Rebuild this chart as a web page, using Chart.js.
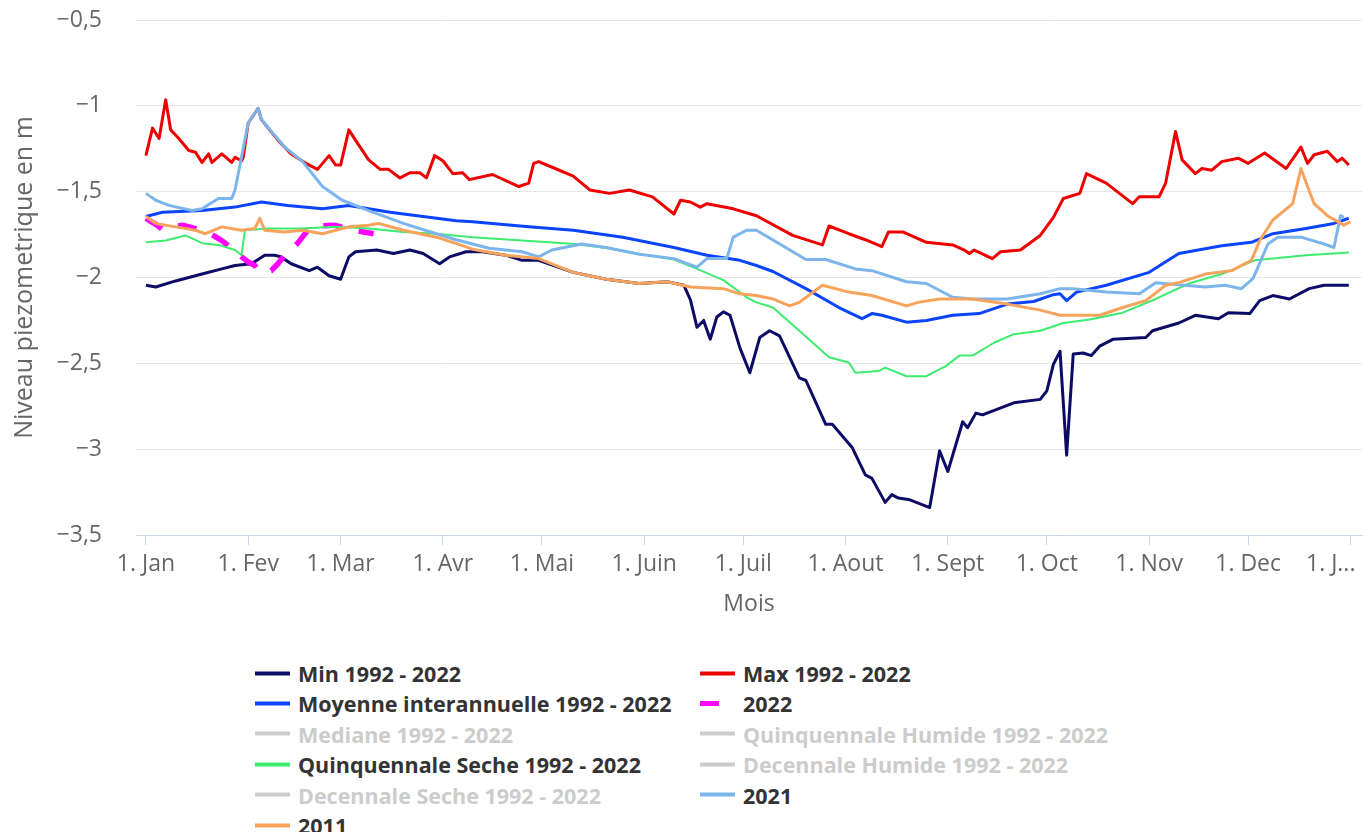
<!DOCTYPE html>
<html>
<head>
<meta charset="utf-8">
<script src="https://cdn.jsdelivr.net/npm/chart.js@4"></script>
<style>
  body { margin: 0; background: #fff; }
  #wrap { position: relative; width: 1363px; height: 832px; overflow: hidden; }
  #box { position: absolute; left: 0; top: 0; width: 1363px; height: 640px; }
  .item { position: absolute; display: flex; align-items: center; transform: translateY(-50%);
          font: bold 21.5px "Open Sans", sans-serif; color: #333; white-space: nowrap; }
  .item.off { color: #ccc; }
  .item svg { margin-right: 8px; }
</style>
</head>
<body>
<div id="wrap">
  <div id="box"><canvas id="chart"></canvas></div>
  <div id="legend"></div>
</div>
<script>
// jours depuis le 1er janvier
const monthDays = [0, 31, 59, 90, 120, 151, 181, 212, 243, 273, 304, 334, 365];
const monthLabels = ['1. Jan', '1. Fev', '1. Mar', '1. Avr', '1. Mai', '1. Juin', '1. Juil', '1. Aout', '1. Sept', '1. Oct', '1. Nov', '1. Dec', '1. J...'];
const yTicks = [-3.5, -3, -2.5, -2, -1.5, -1, -0.5];
const yLabels = ['−3,5', '−3', '−2,5', '−2', '−1,5', '−1', '−0,5'];

const minDays = [0, 3, 9, 17, 23, 27, 32, 36, 39, 41, 44, 49.5, 52, 55.5, 59, 61.5, 63.5, 70, 75, 80, 84, 89, 92, 97, 102, 109, 114, 119, 129.5, 139.5, 149.5, 158, 163, 165, 167, 169, 171, 173, 175, 177, 180, 183, 186, 189, 192, 198, 200, 206, 208, 214, 218, 220, 224, 226, 228, 231.5, 237.5, 240.5, 243, 247.5, 249, 251.5, 253.5, 263, 271, 273, 275, 277, 279, 281, 284, 286.5, 289, 293, 303, 305, 313, 318, 325, 328, 334.5, 337.5, 341.5, 346.5, 352.5, 357, 364.5];
const minVals = [-2.045, -2.055, -2.02, -1.98, -1.95, -1.93, -1.92, -1.87, -1.87, -1.88, -1.92, -1.96, -1.94, -1.99, -2.01, -1.88, -1.85, -1.84, -1.86, -1.84, -1.86, -1.92, -1.88, -1.85, -1.85, -1.87, -1.9, -1.9, -1.97, -2.01, -2.035, -2.025, -2.045, -2.13, -2.29, -2.25, -2.36, -2.23, -2.2, -2.22, -2.41, -2.555, -2.35, -2.31, -2.34, -2.585, -2.6, -2.855, -2.855, -2.99, -3.15, -3.17, -3.31, -3.265, -3.285, -3.295, -3.34, -3.01, -3.13, -2.84, -2.875, -2.79, -2.8, -2.73, -2.71, -2.66, -2.505, -2.43, -3.035, -2.445, -2.44, -2.455, -2.4, -2.36, -2.35, -2.31, -2.265, -2.22, -2.24, -2.205, -2.21, -2.135, -2.105, -2.125, -2.065, -2.045, -2.045];

const maxDays = [0, 2, 4, 6, 7.5, 9.5, 13, 15, 17, 19, 20, 23, 26, 27, 29, 29.5, 31, 34, 35, 40, 41, 44, 48.5, 52, 55.5, 57.5, 59, 61.5, 63.5, 67.5, 71, 73.5, 77, 80, 83, 85, 87.5, 90, 93, 96, 98, 105, 113, 116, 117.5, 119, 124, 129.5, 134.5, 140.5, 146.5, 153.5, 160, 162, 165, 168, 170, 178, 185, 196, 205, 207, 213, 218, 223, 225, 229.5, 236.5, 244.5, 248, 249.5, 251, 256.5, 259, 265, 271, 275, 278, 283, 285, 291, 299, 301, 307, 309, 312, 314, 318, 320, 323, 326, 331, 334, 339, 345.5, 350, 352, 354, 358, 361, 362.5, 364.5];
const maxVals = [-1.29, -1.13, -1.19, -0.965, -1.14, -1.18, -1.26, -1.27, -1.33, -1.28, -1.33, -1.28, -1.33, -1.3, -1.32, -1.3, -1.1, -1.015, -1.08, -1.2, -1.22, -1.28, -1.335, -1.37, -1.29, -1.345, -1.345, -1.14, -1.2, -1.315, -1.37, -1.37, -1.42, -1.39, -1.39, -1.42, -1.29, -1.32, -1.395, -1.39, -1.43, -1.4, -1.47, -1.45, -1.335, -1.325, -1.365, -1.41, -1.49, -1.51, -1.49, -1.53, -1.63, -1.55, -1.56, -1.59, -1.57, -1.6, -1.64, -1.755, -1.81, -1.7, -1.745, -1.78, -1.82, -1.735, -1.735, -1.795, -1.81, -1.84, -1.86, -1.84, -1.89, -1.85, -1.84, -1.755, -1.65, -1.54, -1.51, -1.395, -1.45, -1.57, -1.53, -1.53, -1.45, -1.15, -1.315, -1.395, -1.365, -1.375, -1.325, -1.305, -1.335, -1.275, -1.365, -1.24, -1.335, -1.285, -1.265, -1.325, -1.305, -1.345];

const moyDays = [0, 5, 17, 27, 35, 43, 53.5, 61.5, 74, 84, 94, 99, 116, 129.5, 144.5, 160, 170, 180, 185, 190, 200, 210, 217, 220, 223, 230.5, 236.5, 244.5, 252.5, 261, 269, 275, 277, 279, 282, 291, 304, 313, 326, 335, 341.5, 351.5, 360, 364.5];
const moyVals = [-1.645, -1.62, -1.61, -1.59, -1.56, -1.58, -1.6, -1.58, -1.62, -1.645, -1.67, -1.675, -1.705, -1.725, -1.765, -1.825, -1.87, -1.9, -1.93, -1.965, -2.065, -2.175, -2.24, -2.21, -2.22, -2.26, -2.25, -2.22, -2.21, -2.155, -2.14, -2.1, -2.095, -2.135, -2.085, -2.045, -1.97, -1.86, -1.815, -1.795, -1.745, -1.715, -1.685, -1.655];

const y2022Days = [0, 3, 5, 8, 11, 14, 17, 20, 23, 26, 28, 31, 33, 34, 36, 38, 40, 42, 46, 48, 50, 53, 57, 60, 63, 66, 69];
const y2022Vals = [-1.655, -1.69, -1.72, -1.71, -1.695, -1.71, -1.725, -1.75, -1.785, -1.83, -1.865, -1.91, -1.93, -1.96, -1.97, -1.96, -1.92, -1.87, -1.8, -1.75, -1.705, -1.7, -1.695, -1.71, -1.725, -1.735, -1.745];

const qsDays = [0, 6, 12, 17, 22, 27, 29, 30, 37, 47, 57.5, 67.5, 78, 88, 99, 114, 130, 140, 150, 160, 167, 175, 182, 185, 190, 198, 207, 213, 215, 222, 224, 230.5, 236.5, 242.5, 246.5, 250.5, 257, 263, 271, 278, 286, 296, 306, 316, 326, 336, 341.5, 351.5, 364.5];
const qsVals = [-1.795, -1.785, -1.755, -1.8, -1.81, -1.84, -1.87, -1.725, -1.715, -1.715, -1.705, -1.715, -1.735, -1.745, -1.765, -1.785, -1.805, -1.83, -1.865, -1.895, -1.95, -2.015, -2.115, -2.145, -2.175, -2.31, -2.465, -2.495, -2.555, -2.545, -2.525, -2.575, -2.575, -2.515, -2.455, -2.455, -2.38, -2.33, -2.31, -2.265, -2.245, -2.205, -2.125, -2.035, -1.98, -1.9, -1.89, -1.87, -1.855];

const y2021Days = [0, 3, 7, 14, 17, 22, 26, 27, 31, 34, 35, 42, 47.5, 53.5, 59.5, 67.5, 78, 88, 94, 104, 114, 119, 123, 132, 139.5, 149.5, 160, 167, 170, 176, 178, 182, 185, 200, 206, 215, 220, 230.5, 236.5, 244.5, 250.5, 261, 271, 277, 281, 291, 301, 306, 311, 321, 327, 332, 335.5, 340, 343, 350, 357, 360, 362, 363];
const y2021Vals = [-1.51, -1.55, -1.58, -1.61, -1.6, -1.54, -1.54, -1.49, -1.1, -1.015, -1.08, -1.24, -1.325, -1.47, -1.55, -1.61, -1.685, -1.745, -1.78, -1.83, -1.85, -1.88, -1.84, -1.805, -1.825, -1.865, -1.89, -1.94, -1.89, -1.89, -1.765, -1.725, -1.725, -1.895, -1.895, -1.95, -1.96, -2.025, -2.035, -2.115, -2.125, -2.125, -2.095, -2.065, -2.065, -2.085, -2.095, -2.03, -2.04, -2.055, -2.045, -2.065, -2.005, -1.805, -1.765, -1.765, -1.805, -1.825, -1.64, -1.65];

const y2011Days = [0, 3, 9, 15, 18, 23, 29, 33, 34.5, 36, 42, 47.5, 53.5, 61.5, 67.5, 70.5, 78, 88, 93, 99, 109, 119, 129.5, 139.5, 149.5, 158, 165, 175, 180, 185, 190, 195, 198, 205, 213, 220, 230.5, 234, 240.5, 250.5, 261, 271, 277, 281, 289, 296, 303, 309, 313, 321, 329, 335, 337.5, 341.5, 347.5, 350, 352, 354, 358, 363, 365];
const y2011Vals = [-1.645, -1.685, -1.705, -1.725, -1.745, -1.705, -1.725, -1.715, -1.655, -1.725, -1.735, -1.725, -1.745, -1.705, -1.695, -1.685, -1.725, -1.765, -1.795, -1.835, -1.87, -1.89, -1.97, -2.01, -2.035, -2.025, -2.055, -2.065, -2.095, -2.105, -2.125, -2.165, -2.145, -2.045, -2.085, -2.105, -2.165, -2.145, -2.125, -2.125, -2.155, -2.19, -2.22, -2.22, -2.22, -2.175, -2.135, -2.045, -2.03, -1.98, -1.96, -1.9, -1.785, -1.665, -1.57, -1.365, -1.47, -1.57, -1.64, -1.695, -1.675];

function pts(days, vals) {
  return days.map((d, i) => ({ x: d, y: vals[i] }));
}

function serie(label, color, days, vals, extra) {
  return Object.assign({
    label: label,
    data: days ? pts(days, vals) : [],
    borderColor: color,
    backgroundColor: color,
    borderWidth: 3,
    pointRadius: 0,
    tension: 0,
    borderJoinStyle: 'round',
    hidden: !days
  }, extra || {});
}

const datasets = [
  serie('Min 1992 - 2022', '#0c0c66', minDays, minVals),
  serie('Max 1992 - 2022', '#ee0000', maxDays, maxVals),
  serie('Moyenne interannuelle 1992 - 2022', '#0a44ff', moyDays, moyVals),
  serie('2022', '#ff00ff', y2022Days, y2022Vals, { borderWidth: 5.5, borderDash: [19, 17] }),
  serie('Mediane 1992 - 2022', '#cccccc'),
  serie('Quinquennale Humide 1992 - 2022', '#cccccc'),
  serie('Quinquennale Seche 1992 - 2022', '#3deb6f', qsDays, qsVals, { borderWidth: 2 }),
  serie('Decennale Humide 1992 - 2022', '#cccccc'),
  serie('Decennale Seche 1992 - 2022', '#cccccc'),
  serie('2021', '#7cb5ec', y2021Days, y2021Vals),
  serie('2011', '#f7a35c', y2011Days, y2011Vals)
];
// la derniere serie passe devant, comme dans le graphique d'origine
datasets.forEach((ds, i) => { ds.order = -i; });

const axisFont = { family: 'Open Sans', size: 23 };

const chart = new Chart(document.getElementById('chart'), {
  type: 'line',
  data: { datasets: datasets },
  options: {
    responsive: true,
    maintainAspectRatio: false,
    animation: false,
    layout: { padding: { top: 20, right: 1, left: 0, bottom: 0 } },
    plugins: { legend: { display: false }, tooltip: { enabled: false } },
    scales: {
      x: {
        type: 'linear',
        min: -3,
        max: 368.5,
        afterBuildTicks: s => { s.ticks = monthDays.map(v => ({ value: v })); },
        afterFit: s => { s.height = 105; s.paddingLeft = 0; s.paddingRight = 0; },
        ticks: {
          autoSkip: false,
          maxRotation: 0,
          color: '#666666',
          font: axisFont,
          padding: 6,
          // le dernier libelle est decale vers la gauche pour rester dans le cadre
          callback: (v, i) => i === monthLabels.length - 1 ? monthLabels[i] + '\u2007\u2007\u2007' : monthLabels[i]
        },
        grid: { drawOnChartArea: false, color: '#ccd6eb', tickLength: 10 },
        border: { color: '#ccd6eb' },
        title: { display: true, text: 'Mois', color: '#666666', font: axisFont, padding: { top: 0, bottom: 22 } }
      },
      y: {
        min: -3.5,
        max: -0.5,
        afterBuildTicks: s => { s.ticks = yTicks.map(v => ({ value: v })); },
        afterFit: s => { s.width = 136; s.paddingTop = 0; s.paddingBottom = 0; },
        ticks: {
          color: '#666666',
          font: axisFont,
          padding: 34,
          callback: (v, i) => yLabels[i]
        },
        grid: { color: '#e6e6e6', drawTicks: false },
        border: { display: false },
        title: { display: true, text: 'Niveau piezometrique en m', color: '#666666', font: { family: 'Open Sans', size: 25 }, padding: { top: 10, bottom: 0 } }
      }
    }
  }
});

// legende en deux colonnes sous le graphique
const legendBox = document.getElementById('legend');
chart.data.datasets.forEach((ds, i) => {
  const item = document.createElement('div');
  item.className = 'item' + (ds.hidden ? ' off' : '');
  item.style.left = (i % 2 ? 700 : 255) + 'px';
  item.style.top = (673 + Math.floor(i / 2) * 30.4) + 'px';
  const dash = ds.borderDash ? ds.borderDash.join(' ') : 'none';
  const w = ds.borderDash ? 5 : 4;
  item.innerHTML = '<svg width="35" height="8"><line x1="0" y1="4" x2="35" y2="4" stroke="' + ds.borderColor +
    '" stroke-width="' + w + '" stroke-dasharray="' + dash + '"/></svg>';
  item.appendChild(document.createTextNode(ds.label));
  legendBox.appendChild(item);
});
</script>
</body>
</html>
